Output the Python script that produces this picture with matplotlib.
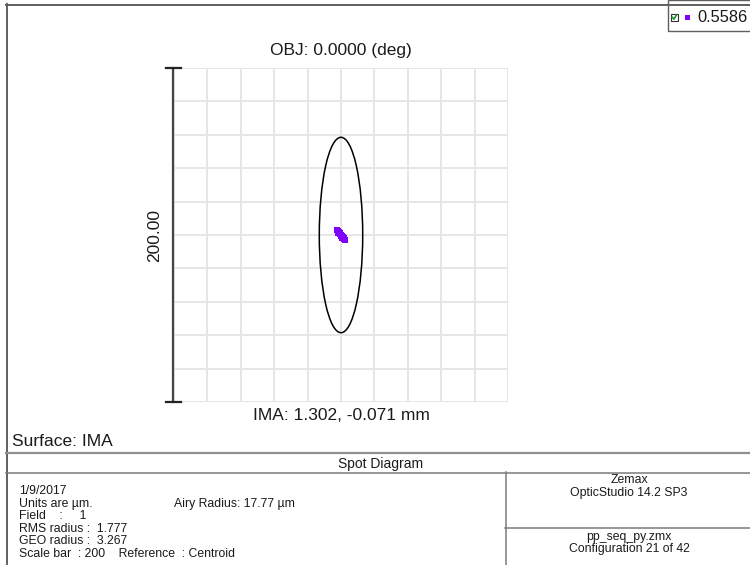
import matplotlib
matplotlib.use('Agg')
import matplotlib.pyplot as plt
from matplotlib.patches import Ellipse, Rectangle
from matplotlib.lines import Line2D

# --- chart data (micrometres) ---
grid_ticks = [-100, -80, -60, -40, -20, 0, 20, 40, 60, 80, 100]
scale_bar = 200.0
airy_semi_x = 13.0
airy_semi_y = 58.5
spot_x = [-2.6, -2.2, -1.8, -1.4, -1.0, -0.6, -0.2, 0.2, 0.6, 1.0, 1.4, 1.8, 2.2, 2.6,
          -2.0, -1.2, -0.4, 0.4, 1.2, 2.0, -1.6, -0.8, 0.0, 0.8, 1.6]
spot_y = [3.0, 2.7, 2.2, 1.6, 1.2, 0.8, 0.2, -0.2, -0.8, -1.2, -1.6, -2.2, -2.7, -3.0,
          2.0, 1.8, 0.9, -0.3, -0.9, -1.7, 1.2, 0.3, -0.4, -1.6, -2.4]
wavelength = "0.5586"

header_title = "OBJ: 0.0000 (deg)"
image_label = "IMA: 1.302, -0.071 mm"
surface_label = "Surface: IMA"
footer_left = ["1/9/2017", "Units are \u00b5m.", "Field    :     1", "RMS radius :  1.777",
               "GEO radius :  3.267", "Scale bar  : 200    Reference  : Centroid"]
footer_left_y = [491, 504, 516, 529, 541, 554]

W, H = 750, 565
plt.rcParams['font.family'] = ['Liberation Sans', 'DejaVu Sans']
TXT = '#1a1a1a'

fig = plt.figure(figsize=(W / 100, H / 100), dpi=100)
fig.patch.set_facecolor('white')


def fx(px):
    return px / W


def fy(py):
    return 1 - py / H


def hline(x0, x1, y, color='#7a7a7a', lw=1.1):
    fig.add_artist(Line2D([fx(x0), fx(x1)], [fy(y), fy(y)], color=color, lw=lw))


def vline(x, y0, y1, color='#7a7a7a', lw=1.1):
    fig.add_artist(Line2D([fx(x), fx(x)], [fy(y0), fy(y1)], color=color, lw=lw))


# main spot axes
ax = fig.add_axes([fx(174), fy(402), fx(508) - fx(174), (402 - 68) / H])
ax.set_xlim(grid_ticks[0], grid_ticks[-1])
ax.set_ylim(grid_ticks[0], grid_ticks[-1])
for t in grid_ticks:
    ax.axvline(t, color='#e6e6e6', lw=1.4, zorder=0)
    ax.axhline(t, color='#e6e6e6', lw=1.4, zorder=0)
for s in ax.spines.values():
    s.set_visible(False)
ax.set_xticks([])
ax.set_yticks([])

ax.add_patch(Ellipse((0, 0), 2 * airy_semi_x, 2 * airy_semi_y, fill=False,
                     edgecolor='black', lw=1.1, zorder=2))
ax.scatter(spot_x, spot_y, s=13, marker='s', color='#7f00ff', linewidths=0, zorder=3)

# scale bar
half = scale_bar / 2
ax.plot([-100.5, -100.5], [-half, half], color='#444444', lw=1.6, clip_on=False)
ax.plot([-104.5, -96], [half, half], color='#222222', lw=1.6, clip_on=False)
ax.plot([-104.5, -96], [-half, -half], color='#222222', lw=1.6, clip_on=False)
fig.text(fx(155), fy(235), f"{scale_bar:.2f}", rotation=90, ha='center', va='center',
         fontsize=12.5, color=TXT)

fig.text(fx(341), fy(50), header_title, ha='center', va='center', fontsize=12.5, color=TXT)
fig.text(fx(341), fy(416), image_label, ha='center', va='center', fontsize=12.5, color=TXT)
fig.text(fx(12), fy(441), surface_label, ha='left', va='center', fontsize=12.5, color=TXT)

# frame lines
hline(6, 750, 4.5, color='#606060', lw=1.4)
vline(6.5, 4, 565, color='#606060', lw=1.4)
hline(6, 750, 453, color='#909090', lw=1.6)
hline(6, 750, 472.5)
vline(505.5, 472, 565)
hline(505, 750, 528)

fig.text(fx(381), fy(464), "Spot Diagram", ha='center', va='center', fontsize=10, color=TXT)
for txt, y in zip(footer_left, footer_left_y):
    fig.text(fx(19), fy(y), txt, ha='left', va='center', fontsize=8.8, color=TXT)
fig.text(fx(174), fy(504), "Airy Radius: 17.77 \u00b5m", ha='left', va='center', fontsize=8.8,
         color=TXT)
fig.text(fx(629), fy(480), "Zemax", ha='center', va='center', fontsize=8.8, color=TXT)
fig.text(fx(629), fy(493), "OpticStudio 14.2 SP3", ha='center', va='center', fontsize=8.8,
         color=TXT)
fig.text(fx(629), fy(537), "pp_seq_py.zmx", ha='center', va='center', fontsize=8.8, color=TXT)
fig.text(fx(629), fy(549), "Configuration 21 of 42", ha='center', va='center', fontsize=8.8,
         color=TXT)

# wavelength legend box
fig.add_artist(Rectangle((fx(667.5), fy(31)), fx(760) - fx(667.5), (31 - 0) / H,
                         transform=fig.transFigure, fill=False, edgecolor='#606060', lw=1.0))
fig.add_artist(Rectangle((fx(671), fy(20.5)), 6.5 / W, 6.5 / H, transform=fig.transFigure,
                         facecolor='white', edgecolor='#333333', lw=0.8))
fig.add_artist(Line2D([fx(672.3), fx(673.9), fx(676.3)], [fy(17.3), fy(19.2), fy(15.2)],
                      color='#1a9a2a', lw=1.2))
fig.add_artist(Rectangle((fx(685), fy(20)), 5 / W, 5 / H, transform=fig.transFigure,
                         facecolor='#7f00ff', edgecolor='none'))
fig.text(fx(697), fy(17.5), wavelength, ha='left', va='center', fontsize=11.8, color=TXT)

fig.savefig('out.png', dpi=100, facecolor='white')
